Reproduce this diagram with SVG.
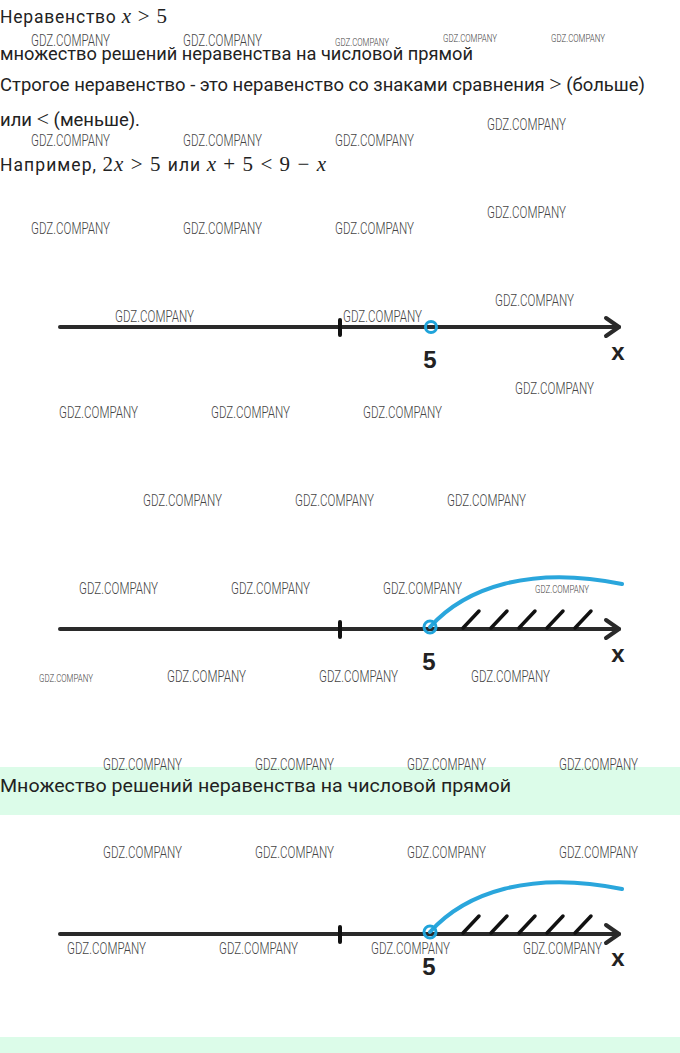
<svg xmlns="http://www.w3.org/2000/svg" width="680" height="1053" viewBox="0 0 680 1053">
<style>
.t{font-family:Roboto,"Liberation Sans",sans-serif;font-size:17.5px;fill:#222}
.m{font-family:"Liberation Serif",serif;font-size:21px;fill:#222}
.mi{font-family:"Liberation Serif",serif;font-style:italic;font-size:21px;fill:#222}
.w{font-family:Roboto,"Liberation Sans",sans-serif;font-weight:300;font-size:16px;fill:#444}
.ws{font-family:Roboto,"Liberation Sans",sans-serif;font-weight:300;font-size:11px;fill:#444}
.axis{stroke:#2a2a2a;stroke-width:4;fill:none;stroke-linecap:round;stroke-linejoin:round}
.tick{stroke:#111;stroke-width:4;stroke-linecap:round}
.pt{fill:none;stroke:#1fa3da;stroke-width:3}
.arc{fill:none;stroke:#2aa6dc;stroke-width:4;stroke-linecap:round}
.hatch{stroke:#111;stroke-width:3.5;stroke-linecap:round}
.lab{font-family:"Liberation Sans",Arial,sans-serif;font-weight:bold;font-size:24px;fill:#222}
</style>
<rect width="680" height="1053" fill="#fff"/>
<rect x="0" y="767" width="680" height="48" fill="#dcfce9"/>
<rect x="0" y="1037" width="680" height="16" fill="#dcfce9"/>

<g id="text">
<text x="0" y="23" class="t" textLength="167" lengthAdjust="spacing">Неравенство <tspan class="mi">x</tspan><tspan class="m"> &gt; 5</tspan></text>
<text x="0" y="60" class="t" textLength="473" lengthAdjust="spacingAndGlyphs">множество решений неравенства на числовой прямой</text>
<text x="0" y="91" class="t" textLength="645" lengthAdjust="spacingAndGlyphs">Строгое неравенство - это неравенство со знаками сравнения <tspan class="m">&gt;</tspan> (больше)</text>
<text x="0" y="126" class="t" textLength="140" lengthAdjust="spacingAndGlyphs">или <tspan class="m">&lt;</tspan> (меньше).</text>
<text x="0" y="171" class="t" textLength="326" lengthAdjust="spacing">Например, <tspan class="m">2</tspan><tspan class="mi">x</tspan><tspan class="m"> &gt; 5 </tspan>или <tspan class="mi">x</tspan><tspan class="m"> + 5 &lt; 9 − </tspan><tspan class="mi">x</tspan></text>
<text x="0" y="792" class="t" textLength="511" lengthAdjust="spacingAndGlyphs">Множество решений неравенства на числовой прямой</text>
</g>

<g id="line1">
<line x1="60" y1="327" x2="619" y2="327" class="axis"/>
<polyline points="606,318 619,327 606,336" class="axis"/>
<line x1="340" y1="320" x2="340" y2="335" class="tick"/>
<circle cx="431" cy="327" r="5.5" class="pt"/>
<text x="430" y="368" class="lab" text-anchor="middle">5</text>
<text x="618" y="360" class="lab" text-anchor="middle">x</text>
</g>

<g id="line2">
<line x1="60" y1="629" x2="619" y2="629" class="axis"/>
<polyline points="606,620 619,629 606,638" class="axis"/>
<line x1="340" y1="622" x2="340" y2="637" class="tick"/>
<path d="M430,627 C465,588 530,565 622,584" class="arc"/>
<circle cx="430" cy="627" r="6" class="pt"/>
<line x1="463" y1="628" x2="479" y2="611" class="hatch"/>
<line x1="491" y1="628" x2="507" y2="611" class="hatch"/>
<line x1="519" y1="628" x2="535" y2="611" class="hatch"/>
<line x1="547" y1="628" x2="563" y2="611" class="hatch"/>
<line x1="575" y1="628" x2="591" y2="611" class="hatch"/>
<text x="429" y="670" class="lab" text-anchor="middle">5</text>
<text x="618" y="662" class="lab" text-anchor="middle">x</text>
</g>

<g id="line3">
<line x1="60" y1="934" x2="619" y2="934" class="axis"/>
<polyline points="606,925 619,934 606,943" class="axis"/>
<line x1="340" y1="927" x2="340" y2="942" class="tick"/>
<path d="M430,932 C465,893 530,870 622,889" class="arc"/>
<circle cx="430" cy="932" r="6" class="pt"/>
<line x1="463" y1="933" x2="479" y2="916" class="hatch"/>
<line x1="491" y1="933" x2="507" y2="916" class="hatch"/>
<line x1="519" y1="933" x2="535" y2="916" class="hatch"/>
<line x1="547" y1="933" x2="563" y2="916" class="hatch"/>
<line x1="575" y1="933" x2="591" y2="916" class="hatch"/>
<text x="429" y="975" class="lab" text-anchor="middle">5</text>
<text x="618" y="966" class="lab" text-anchor="middle">x</text>
</g>

<g id="watermarks">
<text x="31" y="46" class="w" textLength="79" lengthAdjust="spacingAndGlyphs">GDZ.COMPANY</text>
<text x="183" y="46" class="w" textLength="79" lengthAdjust="spacingAndGlyphs">GDZ.COMPANY</text>
<text x="335" y="46" class="ws" textLength="54" lengthAdjust="spacingAndGlyphs">GDZ.COMPANY</text>
<text x="443" y="42" class="ws" textLength="54" lengthAdjust="spacingAndGlyphs">GDZ.COMPANY</text>
<text x="551" y="42" class="ws" textLength="54" lengthAdjust="spacingAndGlyphs">GDZ.COMPANY</text>
<text x="31" y="146" class="w" textLength="79" lengthAdjust="spacingAndGlyphs">GDZ.COMPANY</text>
<text x="183" y="146" class="w" textLength="79" lengthAdjust="spacingAndGlyphs">GDZ.COMPANY</text>
<text x="335" y="146" class="w" textLength="79" lengthAdjust="spacingAndGlyphs">GDZ.COMPANY</text>
<text x="487" y="130" class="w" textLength="79" lengthAdjust="spacingAndGlyphs">GDZ.COMPANY</text>
<text x="31" y="234" class="w" textLength="79" lengthAdjust="spacingAndGlyphs">GDZ.COMPANY</text>
<text x="183" y="234" class="w" textLength="79" lengthAdjust="spacingAndGlyphs">GDZ.COMPANY</text>
<text x="335" y="234" class="w" textLength="79" lengthAdjust="spacingAndGlyphs">GDZ.COMPANY</text>
<text x="487" y="218" class="w" textLength="79" lengthAdjust="spacingAndGlyphs">GDZ.COMPANY</text>
<text x="115" y="322" class="w" textLength="79" lengthAdjust="spacingAndGlyphs">GDZ.COMPANY</text>
<text x="343" y="322" class="w" textLength="79" lengthAdjust="spacingAndGlyphs">GDZ.COMPANY</text>
<text x="495" y="306" class="w" textLength="79" lengthAdjust="spacingAndGlyphs">GDZ.COMPANY</text>
<text x="515" y="394" class="w" textLength="79" lengthAdjust="spacingAndGlyphs">GDZ.COMPANY</text>
<text x="59" y="418" class="w" textLength="79" lengthAdjust="spacingAndGlyphs">GDZ.COMPANY</text>
<text x="211" y="418" class="w" textLength="79" lengthAdjust="spacingAndGlyphs">GDZ.COMPANY</text>
<text x="363" y="418" class="w" textLength="79" lengthAdjust="spacingAndGlyphs">GDZ.COMPANY</text>
<text x="143" y="506" class="w" textLength="79" lengthAdjust="spacingAndGlyphs">GDZ.COMPANY</text>
<text x="295" y="506" class="w" textLength="79" lengthAdjust="spacingAndGlyphs">GDZ.COMPANY</text>
<text x="447" y="506" class="w" textLength="79" lengthAdjust="spacingAndGlyphs">GDZ.COMPANY</text>
<text x="79" y="594" class="w" textLength="79" lengthAdjust="spacingAndGlyphs">GDZ.COMPANY</text>
<text x="231" y="594" class="w" textLength="79" lengthAdjust="spacingAndGlyphs">GDZ.COMPANY</text>
<text x="383" y="594" class="w" textLength="79" lengthAdjust="spacingAndGlyphs">GDZ.COMPANY</text>
<text x="535" y="593" class="ws" textLength="54" lengthAdjust="spacingAndGlyphs">GDZ.COMPANY</text>
<text x="39" y="682" class="ws" textLength="54" lengthAdjust="spacingAndGlyphs">GDZ.COMPANY</text>
<text x="167" y="682" class="w" textLength="79" lengthAdjust="spacingAndGlyphs">GDZ.COMPANY</text>
<text x="319" y="682" class="w" textLength="79" lengthAdjust="spacingAndGlyphs">GDZ.COMPANY</text>
<text x="471" y="682" class="w" textLength="79" lengthAdjust="spacingAndGlyphs">GDZ.COMPANY</text>
<text x="103" y="770" class="w" textLength="79" lengthAdjust="spacingAndGlyphs">GDZ.COMPANY</text>
<text x="255" y="770" class="w" textLength="79" lengthAdjust="spacingAndGlyphs">GDZ.COMPANY</text>
<text x="407" y="770" class="w" textLength="79" lengthAdjust="spacingAndGlyphs">GDZ.COMPANY</text>
<text x="559" y="770" class="w" textLength="79" lengthAdjust="spacingAndGlyphs">GDZ.COMPANY</text>
<text x="103" y="858" class="w" textLength="79" lengthAdjust="spacingAndGlyphs">GDZ.COMPANY</text>
<text x="255" y="858" class="w" textLength="79" lengthAdjust="spacingAndGlyphs">GDZ.COMPANY</text>
<text x="407" y="858" class="w" textLength="79" lengthAdjust="spacingAndGlyphs">GDZ.COMPANY</text>
<text x="559" y="858" class="w" textLength="79" lengthAdjust="spacingAndGlyphs">GDZ.COMPANY</text>
<text x="67" y="954" class="w" textLength="79" lengthAdjust="spacingAndGlyphs">GDZ.COMPANY</text>
<text x="219" y="954" class="w" textLength="79" lengthAdjust="spacingAndGlyphs">GDZ.COMPANY</text>
<text x="371" y="954" class="w" textLength="79" lengthAdjust="spacingAndGlyphs">GDZ.COMPANY</text>
<text x="523" y="954" class="w" textLength="79" lengthAdjust="spacingAndGlyphs">GDZ.COMPANY</text>
</g>
</svg>
